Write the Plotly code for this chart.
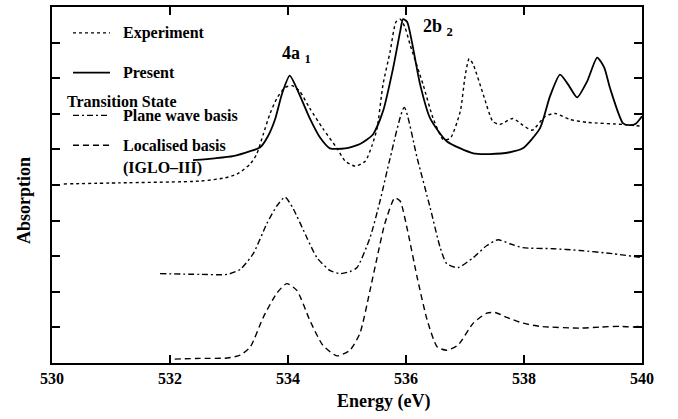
import plotly.graph_objects as go

# ---- data (energy in eV, absorption in arbitrary offset units) ----
exp_x = [530.20, 531.15, 532.51, 532.93, 533.14, 533.36, 533.47, 533.58, 533.69, 533.81, 533.95,
         534.07, 534.20, 534.37, 534.59, 534.83, 534.97, 535.14, 535.31, 535.42, 535.51, 535.61,
         535.73, 535.83, 535.90, 535.98, 536.07, 536.29, 536.46, 536.63, 536.75, 536.92, 537.00,
         537.07, 537.14, 537.31, 537.47, 537.59, 537.81, 537.98, 538.14, 538.36, 538.53, 538.78,
         539.07, 539.68, 540.00]
exp_y = [5.03, 5.06, 5.11, 5.20, 5.31, 5.59, 5.87, 6.42, 6.98, 7.43, 7.74,
         7.79, 7.63, 7.15, 6.59, 6.03, 5.67, 5.53, 5.67, 6.09, 6.59, 7.82,
         8.74, 9.58, 9.66, 9.44, 8.94, 7.82, 6.87, 6.28, 6.31, 7.07, 8.04,
         8.55, 8.38, 7.54, 6.79, 6.70, 6.87, 6.68, 6.54, 6.93, 7.01, 6.84,
         6.76, 6.70, 6.65]

pres_x = [532.39, 532.76, 533.07, 533.36, 533.53, 533.66, 533.78, 533.90, 534.03, 534.17, 534.37,
          534.54, 534.71, 534.97, 535.22, 535.44, 535.61, 535.78, 535.90, 535.95, 536.02, 536.10,
          536.24, 536.41, 536.69, 537.14, 537.42, 537.76, 537.98, 538.27, 538.44, 538.61, 538.75,
          538.90, 539.07, 539.24, 539.36, 539.46, 539.68, 539.80, 539.90, 540.00]
pres_y = [5.70, 5.75, 5.81, 5.95, 6.06, 6.37, 6.84, 7.57, 8.07, 7.63, 6.87,
          6.34, 6.03, 6.03, 6.15, 6.42, 7.07, 8.27, 9.30, 9.66, 9.58, 9.02,
          7.82, 6.87, 6.23, 5.89, 5.87, 5.92, 6.03, 6.59, 7.49, 8.10, 7.82,
          7.46, 7.91, 8.58, 8.30, 7.71, 6.73, 6.68, 6.73, 6.93]

pw_x = [531.83, 532.51, 532.97, 533.19, 533.41, 533.64, 533.81, 533.95, 534.08, 534.32, 534.49,
        534.71, 534.88, 535.05, 535.17, 535.39, 535.56, 535.73, 535.97, 536.19, 536.41, 536.58,
        536.69, 536.88, 537.14, 537.37, 537.56, 537.76, 537.98, 538.49, 538.95, 539.51, 540.00]
pw_y = [2.51, 2.49, 2.49, 2.63, 3.07, 3.91, 4.41, 4.66, 4.36, 3.52, 2.96,
        2.60, 2.51, 2.57, 2.68, 3.52, 4.55, 5.75, 7.18, 5.75, 4.36, 3.24,
        2.79, 2.68, 2.96, 3.30, 3.46, 3.35, 3.24, 3.21, 3.16, 3.07, 2.96]

loc_x = [532.08, 532.51, 532.97, 533.19, 533.36, 533.58, 533.81, 533.98, 534.15, 534.37, 534.59,
         534.83, 535.05, 535.22, 535.39, 535.51, 535.64, 535.81, 535.90, 536.02, 536.19, 536.36,
         536.53, 536.69, 536.88, 537.14, 537.37, 537.51, 537.71, 537.98, 538.27, 538.95, 539.29,
         539.63, 539.85, 539.97]
loc_y = [0.11, 0.13, 0.14, 0.22, 0.45, 1.28, 1.96, 2.23, 2.04, 1.20, 0.50,
         0.20, 0.36, 0.84, 2.04, 2.96, 3.91, 4.64, 4.55, 3.77, 2.40, 1.20,
         0.45, 0.36, 0.50, 1.12, 1.40, 1.42, 1.28, 1.12, 1.03, 0.98, 1.01,
         1.03, 1.01, 1.03]

x_ticks = [530, 532, 534, 536, 538, 540]
legend_labels = ["Experiment", "Present", "Transition State", "Plane wave basis",
                 "Localised basis", "(IGLO\u2013III)"]

FONT = "Liberation Serif"
W, H = 678, 419
L, R, T, B = 52, 642, 5, 363


def px(xp):
    return (xp - L) / (R - L)


def py(yp):
    return (B - yp) / (B - T)


fig = go.Figure()
fig.add_trace(go.Scatter(x=exp_x, y=exp_y, mode="lines", line=dict(color="black", width=1.4, dash="dot", shape="spline", smoothing=0.6)))
fig.add_trace(go.Scatter(x=pres_x, y=pres_y, mode="lines", line=dict(color="black", width=1.8, shape="spline", smoothing=0.6)))
fig.add_trace(go.Scatter(x=pw_x, y=pw_y, mode="lines", line=dict(color="black", width=1.4, dash="6px,3px,2px,3px", shape="spline", smoothing=0.6)))
fig.add_trace(go.Scatter(x=loc_x, y=loc_y, mode="lines", line=dict(color="black", width=1.4, dash="6px,4px", shape="spline", smoothing=0.6)))

# legend line samples
samples = [(31, "dot", 1.4), (71, "solid", 1.8), (114, "6px,3px,2px,3px", 1.4), (144, "6px,4px", 1.4)]
for yp, dash, w in samples:
    fig.add_shape(type="line", xref="paper", yref="paper", x0=px(73), x1=px(110), y0=py(yp), y1=py(yp),
                  line=dict(color="black", width=w, dash=dash))

legend_pos = [(121, 31), (121, 71), (65, 100), (121, 114), (121, 144), (121, 167)]
for text, (xp, yp) in zip(legend_labels, legend_pos):
    fig.add_annotation(x=px(xp), y=py(yp), xref="paper", yref="paper", text=text, showarrow=False,
                       xanchor="left", yanchor="middle", font=dict(family=FONT, size=16, color="black", weight="bold"))

# peak labels
fig.add_annotation(x=px(280), y=py(53), xref="paper", yref="paper", text="4a <sub>1</sub>", showarrow=False,
                   xanchor="left", yanchor="middle", font=dict(family=FONT, size=18, color="black", weight="bold"))
fig.add_annotation(x=px(421), y=py(26), xref="paper", yref="paper", text="2b <sub>2</sub>", showarrow=False,
                   xanchor="left", yanchor="middle", font=dict(family=FONT, size=18, color="black", weight="bold"))

# axis titles
fig.add_annotation(x=px(383), y=py(402), xref="paper", yref="paper", text="Energy (eV)", showarrow=False,
                   xanchor="center", yanchor="middle", font=dict(family=FONT, size=18, color="black", weight="bold"))
fig.add_annotation(x=px(24), y=py(200), xref="paper", yref="paper", text="Absorption", showarrow=False,
                   textangle=-90, xanchor="center", yanchor="middle",
                   font=dict(family=FONT, size=18, color="black", weight="bold"))

fig.update_layout(
    width=W, height=H,
    margin=dict(l=L, r=W - R, t=T, b=H - B),
    paper_bgcolor="white", plot_bgcolor="white",
    showlegend=False,
    xaxis=dict(range=[530, 540], tickvals=x_ticks, ticktext=[str(v) for v in x_ticks],
               ticks="inside", ticklen=8, tickwidth=1.5, tickcolor="black",
               showline=True, linewidth=2, linecolor="black", mirror="ticks",
               showgrid=False, zeroline=False,
               tickfont=dict(family=FONT, size=16, color="black", weight="bold")),
    yaxis=dict(range=[0, 10], dtick=1, tick0=0, ticks="inside", ticklen=8, tickwidth=1.5, tickcolor="black",
               showline=True, linewidth=2, linecolor="black", mirror="ticks",
               showticklabels=False, showgrid=False, zeroline=False),
)

fig.write_html("out.html", config={"displayModeBar": False},
               post_script="document.body.style.margin='0';document.body.style.overflow='hidden';")
